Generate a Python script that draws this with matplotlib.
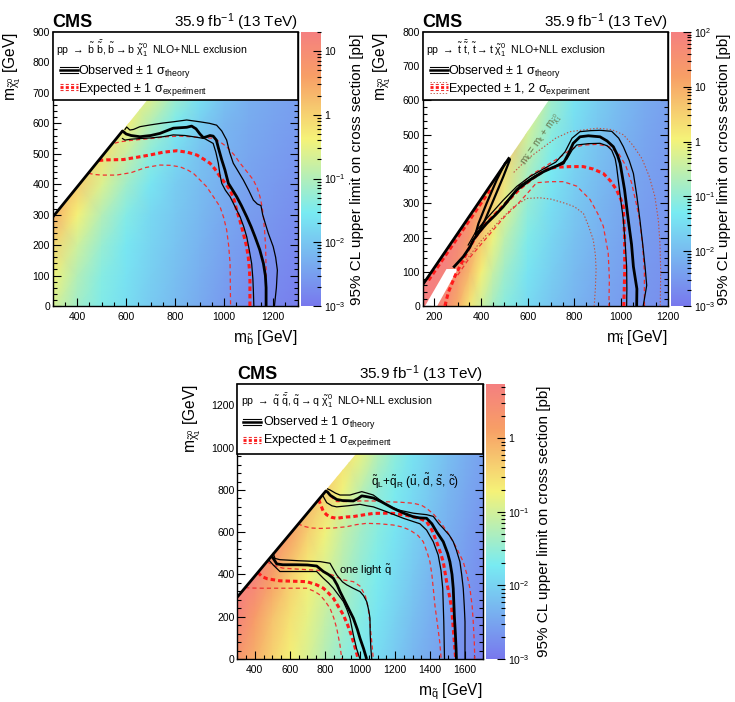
import numpy as np
import matplotlib
matplotlib.use('Agg')
import matplotlib.pyplot as plt
from matplotlib.colors import LinearSegmentedColormap, LogNorm
from matplotlib.patches import Rectangle, Polygon
from matplotlib.lines import Line2D
from matplotlib.ticker import MultipleLocator, FuncFormatter, NullFormatter

plt.rcParams['font.family'] = ['Liberation Sans', 'DejaVu Sans']
plt.rcParams['mathtext.fontset'] = 'custom'
plt.rcParams['mathtext.rm'] = 'Liberation Sans'
plt.rcParams['mathtext.it'] = 'Liberation Sans'
plt.rcParams['mathtext.bf'] = 'Liberation Sans:bold'
plt.rcParams['mathtext.sf'] = 'Liberation Sans'
plt.rcParams['mathtext.fallback'] = 'stixsans'
plt.rcParams['lines.scale_dashes'] = False

# ---------------- data: sbottom ----------------
sb_mx = [300, 400, 500, 600, 700, 800, 900, 1000, 1100, 1200, 1300]
sb_my = [0, 100, 200, 300, 400, 500, 600, 700]
sb_loglim = [
    [-0.65, -1.15, -1.45, -1.70, -1.95, -2.15, -2.35, -2.55, -2.70, -2.80, -2.90],
    [-0.39, -0.99, -1.39, -1.64, -1.89, -2.09, -2.29, -2.49, -2.64, -2.74, -2.84],
    [-0.03, -0.73, -1.23, -1.58, -1.83, -2.03, -2.23, -2.43, -2.58, -2.68, -2.78],
    [0.43, -0.37, -0.97, -1.42, -1.77, -1.97, -2.17, -2.37, -2.52, -2.62, -2.72],
    [0.49, 0.09, -0.61, -1.16, -1.61, -1.91, -2.11, -2.31, -2.46, -2.56, -2.66],
    [0.55, 0.15, -0.15, -0.80, -1.35, -1.75, -2.05, -2.25, -2.40, -2.50, -2.60],
    [0.61, 0.21, -0.09, -0.34, -0.99, -1.49, -1.89, -2.19, -2.34, -2.44, -2.54],
    [0.67, 0.27, -0.03, -0.28, -0.53, -1.13, -1.63, -2.03, -2.28, -2.38, -2.48]]
sb_obs = [(300, 292), (585, 575), (600, 565), (620, 560), (656, 556), (700, 560), (738, 567),
          (792, 584), (847, 587), (867, 591), (885, 582), (901, 565), (915, 553), (928, 556),
          (942, 560), (955, 558), (968, 545), (976, 520), (990, 480), (1003, 447), (1017, 403),
          (1035, 380), (1051, 359), (1070, 330), (1092, 293), (1110, 260), (1126, 227),
          (1145, 185), (1160, 140), (1168, 100), (1171, 60), (1171, 0)]
sb_obs_up = [(595, 580), (602, 588), (615, 578), (630, 580), (656, 589), (700, 595), (750, 601),
             (792, 605), (847, 611), (901, 605), (940, 600), (969, 594), (990, 575), (1010, 545),
             (1022, 505), (1037, 469), (1055, 445), (1078, 414), (1100, 380), (1119, 348),
             (1135, 335), (1150, 330), (1157, 300), (1170, 265), (1180, 239), (1200, 195),
             (1210, 160), (1217, 118), (1213, 60), (1205, 0)]
sb_obs_dn = [(585, 550), (595, 545), (620, 548), (656, 550), (700, 552), (750, 556), (792, 562),
             (840, 560), (874, 556), (920, 550), (955, 534), (966, 505), (976, 469), (983, 430),
             (990, 403), (1005, 380), (1024, 359), (1045, 325), (1065, 293), (1080, 260),
             (1092, 227), (1102, 185), (1112, 140), (1117, 90), (1119, 52), (1121, 0)]
sb_exp = [(488, 478), (520, 480), (588, 481), (640, 488), (697, 496), (750, 505), (806, 510),
          (850, 505), (888, 496), (915, 483), (942, 469), (962, 450), (983, 425), (1005, 402),
          (1024, 381), (1040, 350), (1051, 315), (1065, 278), (1078, 239), (1090, 200),
          (1098, 162), (1103, 120), (1105, 85), (1105, 0)]
sb_exp_up = [(553, 535), (580, 540), (630, 545), (700, 550), (765, 556), (820, 558), (860, 556),
             (910, 553), (955, 551), (985, 538), (1010, 523), (1040, 497), (1065, 469),
             (1092, 442), (1119, 414), (1135, 387), (1146, 359), (1155, 325), (1160, 293),
             (1165, 245), (1169, 195), (1171, 120), (1171, 0)]
sb_exp_dn = [(446, 436), (470, 432), (500, 430), (560, 430), (620, 438), (680, 455), (738, 463),
             (780, 462), (820, 457), (850, 447), (874, 436), (900, 415), (928, 392), (955, 360),
             (983, 326), (998, 290), (1010, 250), (1018, 200), (1024, 140), (1025, 70), (1026, 0)]

# ---------------- data: stop ----------------
st_mx = [150, 200, 250, 300, 350, 400, 450, 500, 600, 700, 800, 900, 1000, 1100, 1200]
st_my = [0, 100, 200, 300, 400, 500, 600]
st_loglim = [
    [2.0, 1.95, 1.6, 1.0, 0.2, -0.35, -0.8, -1.1, -1.55, -1.85, -2.1, -2.3, -2.45, -2.55, -2.65],
    [2.0, 1.99, 1.88, 1.48, 0.84, 0.09, -0.44, -0.86, -1.39, -1.73, -2.0, -2.22, -2.39, -2.51, -2.61],
    [2.0, 2.0, 1.98, 1.81, 1.36, 0.68, -0.02, -0.53, -1.20, -1.61, -1.90, -2.14, -2.33, -2.47, -2.57],
    [2.0, 2.0, 2.0, 1.97, 1.74, 1.24, 0.52, -0.13, -0.98, -1.47, -1.79, -2.05, -2.26, -2.42, -2.53],
    [2.0, 2.0, 2.0, 2.0, 1.96, 1.67, 1.12, 0.36, -0.71, -1.30, -1.67, -1.95, -2.18, -2.36, -2.49],
    [2.0, 2.0, 2.0, 2.0, 2.0, 1.95, 1.60, 1.00, -0.35, -1.10, -1.55, -1.85, -2.10, -2.30, -2.45],
    [2.0, 2.0, 2.0, 2.0, 2.0, 1.99, 1.88, 1.48, 0.09, -0.86, -1.39, -1.73, -2.00, -2.22, -2.39]]
st_edge = [(150, 62), (522, 434)]
st_sliver = [(381, 207), (417, 251), (453, 309), (495, 377), (524, 428), (503, 417), (467, 368),
             (424, 300), (389, 241), (377, 212), (381, 207)]
st_obs = [(281, 112), (324, 144), (353, 173), (367, 193), (395, 218), (424, 241), (460, 265),
          (495, 290), (553, 339), (610, 368), (667, 392), (710, 405), (753, 417), (775, 445),
          (795, 475), (824, 494), (860, 497), (910, 494), (940, 482), (967, 465), (985, 440),
          (996, 417), (1015, 340), (1031, 251), (1045, 180), (1053, 115), (1068, 50), (1067, 0)]
st_obs_up = [(345, 178), (381, 221), (424, 255), (495, 309), (553, 349), (610, 378), (667, 400),
             (720, 420), (760, 450), (790, 490), (824, 509), (870, 512), (910, 513), (960, 510),
             (990, 490), (1010, 465), (1035, 425), (1053, 387), (1068, 320), (1081, 251),
             (1093, 180), (1103, 115), (1110, 60), (1100, 20), (1095, 0)]
st_obs_dn = [(500, 298), (567, 352), (639, 383), (710, 405), (767, 428), (790, 455), (810, 470),
             (860, 474), (910, 475), (940, 468), (960, 455), (975, 430), (981, 407), (995, 330),
             (1010, 251), (1018, 180), (1024, 115), (1025, 50), (1024, 0)]
st_exp = [(245, 0), (260, 40), (290, 90), (320, 130), (350, 170), (380, 205), (420, 240),
          (470, 275), (520, 310), (570, 345), (620, 372), (681, 400), (720, 405), (781, 407),
          (838, 407), (880, 400), (924, 387), (955, 365), (981, 339), (1000, 310), (1010, 290),
          (1015, 204), (1016, 107), (1012, 0)]
st_exp_diag = [(175, 75), (250, 150), (330, 230), (400, 300), (440, 340)]
st_exp_dn = [(300, 90), (350, 140), (400, 180), (450, 220), (500, 260), (560, 300), (600, 330),
             (638, 360), (700, 363), (753, 363), (810, 350), (867, 311), (900, 270), (924, 233),
             (945, 155), (950, 80), (948, 0)]
st_exp_up = [(560, 350), (620, 385), (680, 410), (740, 435), (790, 460), (838, 470), (900, 472),
             (950, 465), (990, 445), (1020, 410), (1045, 360), (1065, 300), (1080, 250),
             (1092, 180), (1100, 100), (1100, 0)]
st_exp_dn2 = [(320, 120), (400, 190), (480, 250), (540, 290), (596, 314), (650, 316), (700, 312),
              (760, 300), (800, 290), (839, 270), (860, 235), (881, 193), (890, 150), (893, 107),
              (890, 50), (885, 0)]
st_exp_up2 = [(540, 390), (600, 430), (660, 460), (720, 490), (781, 509), (850, 515), (900, 519),
              (960, 515), (1010, 500), (1050, 470), (1090, 430), (1120, 380), (1145, 320),
              (1160, 250), (1167, 180), (1170, 100), (1168, 0)]
st_band = [(160, 0), (212, 0), (300, 108), (252, 108)]

# ---------------- data: squark ----------------
sq_mx = [300, 400, 500, 600, 700, 800, 900, 1000, 1100, 1200, 1300, 1400, 1500, 1600, 1700]
sq_my = [0, 200, 400, 600, 800, 1000]
sq_loglim = [
    [0.30, -0.05, -0.40, -0.70, -0.95, -1.25, -1.50, -1.70, -1.90, -2.10, -2.30, -2.45, -2.60, -2.75, -2.90],
    [0.65, 0.20, -0.23, -0.55, -0.83, -1.10, -1.38, -1.60, -1.80, -2.00, -2.20, -2.38, -2.53, -2.68, -2.83],
    [0.95, 0.65, 0.15, -0.32, -0.70, -0.95, -1.25, -1.50, -1.70, -1.90, -2.10, -2.30, -2.45, -2.60, -2.75],
    [1.10, 0.80, 0.48, 0.13, -0.35, -0.75, -1.10, -1.38, -1.60, -1.80, -2.00, -2.20, -2.38, -2.53, -2.68],
    [1.25, 0.95, 0.65, 0.30, -0.05, -0.35, -0.75, -1.17, -1.50, -1.70, -1.90, -2.10, -2.30, -2.45, -2.60],
    [1.40, 1.10, 0.80, 0.48, 0.13, -0.20, -0.48, -0.75, -1.18, -1.52, -1.80, -2.00, -2.20, -2.38, -2.53]]
sq8_obs = [(300, 293), (805, 795), (815, 790), (830, 775), (867, 755), (900, 750), (962, 748),
           (990, 760), (1010, 772), (1040, 768), (1076, 762), (1120, 745), (1190, 713),
           (1250, 690), (1304, 673), (1340, 668), (1380, 666), (1410, 640), (1437, 602),
           (1475, 555), (1500, 500), (1513, 460), (1525, 400), (1532, 334), (1538, 208),
           (1544, 122), (1548, 50), (1550, 0)]
sq8_obs_up = [(815, 805), (829, 800), (860, 785), (886, 776), (943, 776), (980, 785), (1010, 792),
              (1040, 785), (1076, 776), (1152, 729), (1220, 705), (1304, 690), (1380, 683),
              (1418, 675), (1450, 640), (1475, 618), (1510, 585), (1532, 555), (1550, 515),
              (1570, 460), (1580, 400), (1589, 334), (1595, 250), (1599, 176), (1599, 0)]
sq8_obs_dn = [(790, 770), (810, 740), (840, 725), (867, 720), (930, 725), (1000, 732), (1040, 725),
              (1076, 720), (1152, 697), (1247, 666), (1342, 640), (1380, 610), (1418, 555),
              (1446, 492), (1462, 420), (1472, 334), (1478, 176), (1482, 0)]
sq8_exp = [(765, 755), (772, 737), (790, 700), (810, 682), (840, 670), (867, 666), (920, 672),
           (962, 674), (1020, 682), (1076, 689), (1150, 690), (1190, 689), (1250, 682),
           (1304, 673), (1340, 665), (1380, 650), (1410, 610), (1437, 555), (1460, 500),
           (1475, 460), (1494, 366), (1510, 300), (1523, 240), (1532, 145), (1540, 60), (1546, 0)]
sq8_exp_up = [(830, 770), (867, 745), (930, 745), (1000, 748), (1076, 748), (1152, 744),
              (1230, 742), (1304, 737), (1350, 728), (1380, 713), (1420, 685), (1456, 650),
              (1500, 600), (1532, 555), (1560, 510), (1589, 460), (1610, 400), (1627, 334),
              (1640, 250), (1646, 176), (1652, 80), (1655, 0)]
sq8_exp_dn = [(645, 640), (680, 628), (720, 620), (772, 618), (850, 620), (924, 626), (980, 636),
              (1038, 642), (1110, 640), (1190, 634), (1240, 625), (1285, 610), (1330, 585),
              (1361, 555), (1385, 500), (1399, 460), (1410, 400), (1418, 334), (1428, 250),
              (1440, 176), (1455, 80), (1463, 0)]
sq1_obs = [(495, 488), (510, 470), (525, 450), (560, 446), (640, 446), (700, 445), (753, 440),
           (791, 414), (820, 400), (848, 382), (870, 350), (886, 319), (924, 256), (962, 193),
           (985, 140), (1000, 98), (1020, 50), (1038, 0)]
sq1_obs_up = [(505, 500), (515, 476), (543, 470), (650, 465), (772, 461), (829, 453), (848, 425),
              (867, 398), (900, 365), (924, 351), (960, 335), (1000, 319), (1020, 300),
              (1038, 272), (1050, 230), (1057, 193), (1058, 120), (1062, 50), (1067, 0)]
sq1_obs_dn = [(480, 468), (505, 445), (543, 414), (650, 414), (753, 414), (791, 382), (820, 360),
              (848, 335), (880, 300), (905, 272), (925, 235), (943, 193), (962, 114), (980, 50),
              (1000, 0)]
sq1_exp = [(418, 410), (440, 390), (470, 380), (543, 370), (620, 368), (696, 366), (750, 352),
           (791, 335), (820, 312), (848, 288), (875, 250), (905, 209), (930, 160), (950, 114),
           (970, 60), (990, 0)]
sq1_exp_up = [(470, 460), (500, 445), (560, 430), (650, 425), (760, 420), (800, 410), (850, 395),
              (900, 375), (962, 366), (1000, 345), (1030, 300), (1045, 250), (1055, 180),
              (1065, 100), (1076, 0)]
sq1_exp_dn = [(345, 338), (380, 336), (440, 335), (505, 335), (600, 335), (696, 335), (740, 320),
              (772, 303), (800, 275), (829, 240), (850, 195), (867, 146), (885, 70), (896, 0)]

# ---------------- style ----------------
cmap = LinearSegmentedColormap.from_list('cmssusy', [
    (0.00, (0.47, 0.47, 0.93)), (0.34, (0.47, 0.92, 0.95)), (0.61, (0.96, 0.95, 0.47)),
    (0.84, (0.97, 0.62, 0.40)), (1.00, (0.96, 0.50, 0.50))], N=512)

RED = '#ff1a1a'
OBS_THICK = dict(color='black', lw=2.0, zorder=4, solid_capstyle='butt')
OBS_THIN = dict(color='black', lw=0.9, zorder=4)
EXP_THICK = dict(color=RED, lw=2.2, zorder=3.5, dashes=(3.2, 2.2))
EXP_THIN = dict(color='#f03030', lw=0.9, zorder=3.5, dashes=(3.0, 2.2))
EXP_DOT = dict(color='#c05040', lw=0.8, zorder=3.4, dashes=(1.0, 1.4))

W, H = 735, 702
fig = plt.figure(figsize=(W / 100, H / 100), dpi=100)


def px_rect(l, t, r, b):
    return [l / W, (H - b) / H, (r - l) / W, (b - t) / H]


def curve(ax, pts, style):
    xs = [p[0] for p in pts]
    ys = [p[1] for p in pts]
    ax.plot(xs, ys, **style)


def cbfmt(v, pos):
    e = int(round(np.log10(v)))
    if e == 0:
        return '1'
    if e == 1:
        return '10'
    return r'$10^{%d}$' % e


def setup(ax, cax, mx, my, loglim, vmax, clip, xlim, ylim, xmaj, xmin, ymaj, ymin,
          xlabel, ylabel, ylab_x, cblab_x):
    X, Y = np.meshgrid(mx, my)
    Z = 10.0 ** np.array(loglim)
    mesh = ax.pcolormesh(X, Y, Z, shading='gouraud', cmap=cmap,
                         norm=LogNorm(vmin=1e-3, vmax=vmax), zorder=0.5)
    mesh.set_clip_path(Polygon(clip, closed=True, transform=ax.transData))
    ax.set_xlim(*xlim)
    ax.set_ylim(*ylim)
    ax.xaxis.set_major_locator(MultipleLocator(xmaj))
    ax.xaxis.set_minor_locator(MultipleLocator(xmin))
    ax.yaxis.set_major_locator(MultipleLocator(ymaj))
    ax.yaxis.set_minor_locator(MultipleLocator(ymin))
    ax.tick_params(which='both', direction='in', right=True, top=False, labelsize=7.5, width=0.8)
    ax.tick_params(which='major', length=5.5)
    ax.tick_params(which='minor', length=2.8)
    ax.tick_params(axis='x', pad=4)
    ax.tick_params(axis='y', pad=2)
    for s in ax.spines.values():
        s.set_linewidth(1.0)
    ax.text(1.0, -0.082, xlabel, transform=ax.transAxes, ha='right', va='top', fontsize=11.2)
    ax.text(ylab_x, 1.0, ylabel, transform=ax.transAxes, ha='center', va='top',
            rotation=90, fontsize=11.2)
    ax.text(0.0, 1.018, 'CMS', transform=ax.transAxes, ha='left', va='baseline',
            fontsize=13, fontweight='bold')
    ax.text(1.0, 1.018, r'35.9 fb$^{-1}$ (13 TeV)', transform=ax.transAxes, ha='right',
            va='baseline', fontsize=11)
    cb = fig.colorbar(mesh, cax=cax)
    cb.outline.set_visible(False)
    cax.yaxis.set_ticks_position('right')
    cax.tick_params(which='both', direction='in', labelsize=7.5, pad=2, width=0.8)
    cax.tick_params(which='major', length=5.5)
    cax.tick_params(which='minor', length=2.8)
    cax.yaxis.set_major_formatter(FuncFormatter(cbfmt))
    cax.yaxis.set_minor_formatter(NullFormatter())
    cax.text(cblab_x, 0.5, '95% CL upper limit on cross section [pb]', transform=cax.transAxes,
             rotation=90, ha='center', va='center', fontsize=11)
    return mesh


def legend(ax, ybox, title, exp_label, ys, xs, two_sigma=False):
    ax.add_patch(Rectangle((0, ybox), 1, 1 - ybox, transform=ax.transAxes, facecolor='white',
                           edgecolor='black', lw=1.2, zorder=10, clip_on=False))
    ax.text(xs[0], ys[0], title, transform=ax.transAxes, fontsize=7.6, va='baseline', zorder=11)
    ax.text(xs[2], ys[1], r'Observed $\pm$ 1 $\sigma_{\mathrm{theory}}$', transform=ax.transAxes,
            fontsize=9, va='baseline', zorder=11)
    ax.text(xs[2], ys[2], exp_label, transform=ax.transAxes, fontsize=9, va='baseline', zorder=11)
    off = 3.1 / 274
    x0, x1 = xs[1], xs[1] + 0.072
    yo = ys[3]
    ye = ys[4]
    ax.add_line(Line2D([x0, x1], [yo, yo], transform=ax.transAxes, zorder=11, color='black', lw=1.8))
    for d in (-off, off):
        ax.add_line(Line2D([x0, x1], [yo + d, yo + d], transform=ax.transAxes, zorder=11,
                           color='black', lw=0.8))
    ax.add_line(Line2D([x0, x1], [ye, ye], transform=ax.transAxes, zorder=11, color=RED, lw=2.0,
                       dashes=(2.2, 1.6)))
    for d in (-off, off):
        ax.add_line(Line2D([x0, x1], [ye + d, ye + d], transform=ax.transAxes, zorder=11,
                           color='#f03030', lw=0.8, dashes=(2.2, 1.6)))
    if two_sigma:
        for d in (-1.8 * off, 1.8 * off):
            ax.add_line(Line2D([x0, x1], [ye + d, ye + d], transform=ax.transAxes, zorder=11,
                               color='#c05040', lw=0.6, dashes=(1.0, 1.2)))


# ================= panel 1: sbottom =================
ax1 = fig.add_axes(px_rect(52.7, 32, 297.7, 306))
cax1 = fig.add_axes(px_rect(301, 32, 321, 306))
setup(ax1, cax1, sb_mx, sb_my, sb_loglim, 20.0,
      [(300, 0), (300, 292), (1300, 1292), (1300, 0)], (300, 1300), (0, 900), 200, 50, 100, 20,
      r'$\mathrm{m}_{\tilde{\mathrm{b}}}$ [GeV]', r'$\mathrm{m}_{\tilde{\chi}^{0}_{1}}$ [GeV]',
      -0.166, 2.8)
for pts, st in [(sb_exp_dn, EXP_THIN), (sb_exp_up, EXP_THIN), (sb_exp, EXP_THICK),
                (sb_obs_dn, OBS_THIN), (sb_obs_up, OBS_THIN), (sb_obs, OBS_THICK)]:
    curve(ax1, pts, st)
legend(ax1, 0.752,
       r'pp $\rightarrow$ $\tilde{\mathrm{b}}\ \bar{\tilde{\mathrm{b}}}$, '
       r'$\tilde{\mathrm{b}}\rightarrow\mathrm{b}\ \tilde{\chi}^{0}_{1}$  NLO+NLL exclusion',
       r'Expected $\pm$ 1 $\sigma_{\mathrm{experiment}}$',
       [0.919, 0.847, 0.780, 0.861, 0.798], [0.012, 0.03, 0.105])

# ================= panel 2: stop =================
ax2 = fig.add_axes(px_rect(422.7, 32, 667.7, 306))
cax2 = fig.add_axes(px_rect(671, 32, 691, 306))
setup(ax2, cax2, st_mx, st_my, st_loglim, 100.0,
      [(150, 0), (150, 62), (1200, 1112), (1200, 0)], (150, 1200), (0, 800), 200, 50, 100, 20,
      r'$\mathrm{m}_{\tilde{\mathrm{t}}}$ [GeV]', r'$\mathrm{m}_{\tilde{\chi}^{0}_{1}}$ [GeV]',
      -0.167, 2.65)
ax2.add_patch(Polygon(st_band, closed=True, facecolor='white', edgecolor='none', zorder=1.5))
for pts, st in [(st_exp_dn2, EXP_DOT), (st_exp_up2, EXP_DOT), (st_exp_dn, EXP_THIN),
                (st_exp_up, EXP_THIN), (st_exp, EXP_THICK), (st_exp_diag, EXP_THICK),
                (st_obs_dn, OBS_THIN), (st_obs_up, OBS_THIN), (st_obs, OBS_THICK),
                (st_sliver, dict(color='black', lw=1.6, zorder=4)), (st_edge, OBS_THICK)]:
    curve(ax2, pts, st)
ax2.text(662, 485, r'$\mathrm{m}_{\tilde{\mathrm{t}}}$ = $\mathrm{m}_{\mathrm{t}}$ + '
         r'$\mathrm{m}_{\tilde{\chi}^{0}_{1}}$', rotation=55, color='#66744a', fontsize=7.2,
         ha='center', va='center', rotation_mode='anchor', zorder=5)
legend(ax2, 0.751,
       r'pp $\rightarrow$ $\tilde{\mathrm{t}}\ \bar{\tilde{\mathrm{t}}}$, '
       r'$\tilde{\mathrm{t}}\rightarrow\mathrm{t}\ \tilde{\chi}^{0}_{1}$  NLO+NLL exclusion',
       r'Expected $\pm$ 1, 2 $\sigma_{\mathrm{experiment}}$',
       [0.919, 0.847, 0.780, 0.861, 0.798], [0.012, 0.03, 0.105], two_sigma=True)

# ================= panel 3: squark =================
ax3 = fig.add_axes(px_rect(237.3, 384.3, 482.7, 659))
cax3 = fig.add_axes(px_rect(486, 384.3, 505, 659))
setup(ax3, cax3, sq_mx, sq_my, sq_loglim, 5.4,
      [(300, 0), (300, 295), (1700, 1695), (1700, 0)], (300, 1700), (0, 1300), 200, 50, 200, 40,
      r'$\mathrm{m}_{\tilde{\mathrm{q}}}$ [GeV]', r'$\mathrm{m}_{\tilde{\chi}^{0}_{1}}$ [GeV]',
      -0.186, 3.05)
for pts, st in [(sq8_exp_dn, EXP_THIN), (sq8_exp_up, EXP_THIN), (sq8_exp, EXP_THICK),
                (sq1_exp_dn, EXP_THIN), (sq1_exp_up, EXP_THIN), (sq1_exp, EXP_THICK),
                (sq8_obs_dn, OBS_THIN), (sq8_obs_up, OBS_THIN), (sq8_obs, OBS_THICK),
                (sq1_obs_dn, OBS_THIN), (sq1_obs_up, OBS_THIN), (sq1_obs, OBS_THICK)]:
    curve(ax3, pts, st)
ax3.text(1314, 840, r'$\tilde{\mathrm{q}}_{\mathrm{L}}$+$\tilde{\mathrm{q}}_{\mathrm{R}}$ '
         r'($\tilde{\mathrm{u}}$, $\tilde{\mathrm{d}}$, $\tilde{\mathrm{s}}$, $\tilde{\mathrm{c}}$)',
         ha='center', va='center', fontsize=8.5, zorder=5)
ax3.text(1028, 421, r'one light $\tilde{\mathrm{q}}$', ha='center', va='center', fontsize=8,
         zorder=5)
legend(ax3, 0.746,
       r'pp $\rightarrow$ $\tilde{\mathrm{q}}\ \bar{\tilde{\mathrm{q}}}$, '
       r'$\tilde{\mathrm{q}}\rightarrow\mathrm{q}\ \tilde{\chi}^{0}_{1}$  NLO+NLL exclusion',
       r'Expected $\pm$ 1 $\sigma_{\mathrm{experiment}}$',
       [0.925, 0.852, 0.785, 0.864, 0.797], [0.015, 0.025, 0.106])

fig.savefig('out.png', dpi=100)
